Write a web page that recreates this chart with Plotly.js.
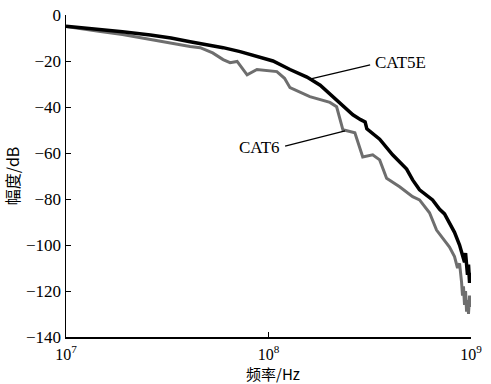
<!DOCTYPE html>
<html>
<head>
<meta charset="utf-8">
<script src="https://cdn.plot.ly/plotly-3.0.1.min.js"></script>
<style>html,body{margin:0;padding:0;background:#fff;}#chart{width:491px;height:384px;}</style>
</head>
<body>
<div id="chart"></div>
<script>
// Frequencies (Hz) and magnitudes (dB)
const freqCat5e = [1.0e7, 1.2e7, 1.48e7, 1.9e7, 2.61e7, 3.3e7, 4.10e7, 5.0e7, 5.97e7, 7.24e7, 8.77e7, 1.052e8, 1.277e8, 1.548e8, 1.80e8, 2.08e8, 2.35e8, 2.61e8, 2.85e8, 3.0e8, 3.06e8, 3.54e8, 4.10e8, 4.81e8, 5.15e8, 5.57e8, 6.46e8, 7.0e8, 7.40e8, 7.83e8, 8.29e8, 8.78e8, 9.08e8, 9.29e8, 9.40e8, 9.51e8, 9.61e8, 9.72e8, 9.84e8, 9.95e8];
const dbCat5e   = [-4.9, -5.5, -6.4, -7.3, -8.7, -10.0, -11.6, -12.8, -14.2, -15.9, -18.0, -20.0, -23.7, -27.0, -30.5, -35.5, -39.5, -43.4, -45.5, -46.5, -49.5, -54.0, -60.8, -67.0, -71.7, -76.0, -80.4, -84.5, -86.5, -90.4, -94.5, -100.0, -104.0, -107.5, -103.5, -110.5, -113.0, -108.5, -116.5, -112.0];

const freqCat6 = [1.0e7, 1.2e7, 1.48e7, 1.9e7, 2.61e7, 3.3e7, 4.10e7, 4.60e7, 5.3e7, 5.97e7, 6.46e7, 7.00e7, 7.84e7, 8.77e7, 1.10e8, 1.2e8, 1.277e8, 1.60e8, 2.01e8, 2.17e8, 2.33e8, 2.67e8, 2.92e8, 3.27e8, 3.54e8, 3.83e8, 4.44e8, 5.15e8, 5.57e8, 6.24e8, 6.76e8, 7.83e8, 8.29e8, 8.58e8, 8.78e8, 8.98e8, 9.08e8, 9.18e8, 9.29e8, 9.40e8, 9.51e8, 9.61e8, 9.72e8, 9.84e8, 9.95e8];
const dbCat6   = [-5.0, -5.9, -7.2, -8.5, -10.7, -12.2, -13.7, -14.2, -16.5, -19.4, -20.7, -20.2, -26.0, -23.7, -24.6, -27.5, -31.6, -35.5, -38.0, -39.9, -49.9, -51.2, -61.7, -60.8, -63.0, -71.0, -74.7, -79.0, -80.4, -86.0, -93.5, -100.9, -105.0, -110.0, -108.0, -116.0, -122.0, -118.0, -126.0, -120.0, -129.0, -124.0, -130.0, -122.0, -127.0];

const xTickVals = [1e7, 1e8, 1e9];
const xTickText = ['10<sup>7</sup>', '10<sup>8</sup>', '10<sup>9</sup>'];
const yTickVals = [0, -20, -40, -60, -80, -100, -120, -140];
const xTitle = '频率/Hz';
const yTitle = '幅度/dB';

const serif = 'Times New Roman, Liberation Serif, DejaVu Serif, serif';
const cjk = 'Noto Sans CJK SC';

const traces = [
  {x: freqCat6, y: dbCat6, mode: 'lines', line: {color: '#6e6e6e', width: 3}, name: 'CAT6'},
  {x: freqCat5e, y: dbCat5e, mode: 'lines', line: {color: '#000000', width: 3.5}, name: 'CAT5E'}
];

const layout = {
  width: 491, height: 384,
  margin: {l: 66, r: 20, t: 15, b: 47},
  paper_bgcolor: '#fff', plot_bgcolor: '#fff',
  showlegend: false,
  font: {family: serif, size: 17, color: '#000'},
  xaxis: {
    type: 'log', range: [7, 9],
    tickvals: xTickVals, ticktext: xTickText,
    ticks: 'inside', ticklen: 5, tickcolor: '#000', tickwidth: 1,
    ticklabelstandoff: 2,
    showline: true, linecolor: '#000', linewidth: 1.5, showgrid: false, zeroline: false,
    tickfont: {family: serif, size: 16}
  },
  yaxis: {
    range: [-140, 0], tickvals: yTickVals,
    ticks: 'inside', ticklen: 5, tickcolor: '#000', tickwidth: 1,
    showline: true, linecolor: '#000', linewidth: 1.5, showgrid: false, zeroline: false,
    tickfont: {family: serif, size: 17},
    title: {text: yTitle, font: {family: cjk, size: 16}, standoff: 8}
  },
  shapes: [
    {type: 'line', xref: 'paper', yref: 'paper', x0: 0.602, y0: 0.801, x1: 0.751, y1: 0.845, line: {color: '#000', width: 1.2}},
    {type: 'line', xref: 'paper', yref: 'paper', x0: 0.541, y0: 0.593, x1: 0.689, y1: 0.640, line: {color: '#000', width: 1.2}}
  ],
  annotations: [
    {xref: 'paper', yref: 'paper', x: 0.758, y: 0.854, xanchor: 'left', yanchor: 'middle', text: 'CAT5E', showarrow: false, font: {family: serif, size: 17}},
    {xref: 'paper', yref: 'paper', x: 0.533, y: 0.587, xanchor: 'right', yanchor: 'middle', text: 'CAT6', showarrow: false, font: {family: serif, size: 17}},
    {xref: 'paper', yref: 'paper', x: 0.51, y: -0.114, xanchor: 'center', yanchor: 'middle', text: xTitle, showarrow: false, font: {family: cjk, size: 15}}
  ]
};

Plotly.newPlot('chart', traces, layout, {displayModeBar: false, staticPlot: true});
</script>
</body>
</html>
